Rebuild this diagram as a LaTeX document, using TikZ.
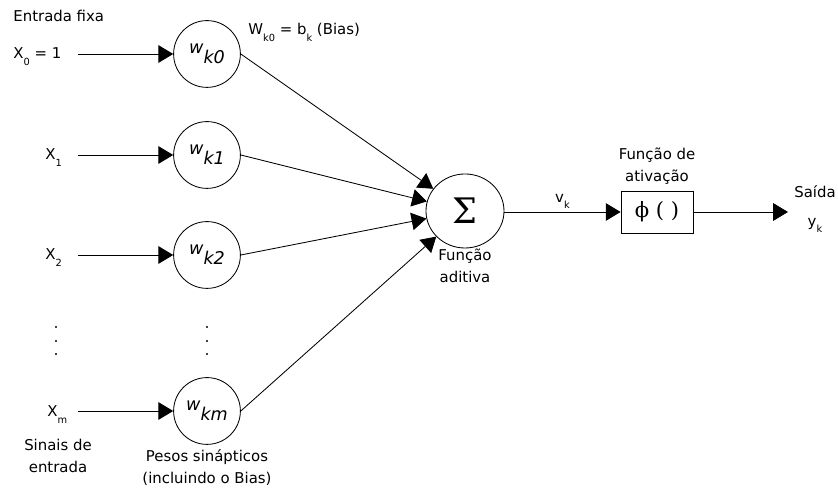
\documentclass[tikz,border=0pt]{standalone}
\usepackage{fontspec}
\setmainfont{DejaVu Sans}
\newfontfamily\serifsym{DejaVu Serif}
\usetikzlibrary{arrows.meta,positioning,shapes.geometric}
\newcommand{\idx}[1]{\raisebox{-4.5pt}{\fontsize{7}{7}\selectfont #1}}
\newcommand{\wlabel}[1]{w\raisebox{-7pt}{#1}}
\tikzset{>={Triangle[length=10.5pt,width=12.5pt]},x=0.025cm,y=0.025cm}
\tikzset{
    peso/.style={circle,draw,minimum size=47.5pt,inner sep=0pt,
        font=\fontsize{12.5}{14}\selectfont\itshape},
    txt/.style={inner sep=0pt,align=center,font=\fontsize{10.6}{15.6}\selectfont},
    every path/.style={line width=0.6pt}
}

\begin{document}
\begin{tikzpicture}
    \useasboundingbox (0,0) rectangle (838,491);
    % pesos
    \node[peso] (w0) at (207,437) {\wlabel{k0}};
    \node[peso] (w1) at (207,336) {\wlabel{k1}};
    \node[peso] (w2) at (207,236) {\wlabel{k2}};
    \node[peso] (wm) at (207,80)  {\wlabel{km}};
    \node[ellipse,draw,minimum width=1.95cm,minimum height=1.85cm,inner sep=0pt,
        font=\serifsym\fontsize{25}{25}\selectfont] (sum) at (465,280) {Σ};
    \node[rectangle,draw,minimum width=1.8cm,minimum height=1.05cm,inner sep=0pt,
        font=\serifsym\fontsize{15}{15}\selectfont] (act) at (657,279) {ϕ ( )};
    \coordinate (out) at (788,279);
    % entradas
    \node[txt,anchor=base west] (fixa) at (13,469) {Entrada fixa};
    \node[txt,anchor=base west] (x0) at (13,432) {X\idx{0} = 1};
    \node[txt,anchor=base west] (x1) at (45,331) {X\idx{1}};
    \node[txt,anchor=base west] (x2) at (45,231) {X\idx{2}};
    \node[txt,anchor=base west] (xm) at (47,74)  {X\idx{m}};
    \coordinate (in0) at (78,437);
    \coordinate (in1) at (78,336);
    \coordinate (in2) at (78,236);
    \coordinate (inm) at (78,80);
    \foreach \y in {137,150,164} {
        \fill (56,\y) circle (1.1);
        \fill (207,\y) circle (1.1);
    }
    % rotulos
    \node[txt,anchor=base west] (bias) at (248,456) {W\idx{k0} = b\idx{k} (Bias)};
    \node[txt] (sinais) at (58,35) {Sinais de\\entrada};
    \node[txt] (pesos) [below=3pt of wm] {Pesos sinápticos\\(incluindo o Bias)};
    \node[txt] (aditiva) [below=0pt of sum] {Função\\aditiva};
    \node[txt] (ativ) [above=4pt of act] {Função de\\ativação};
    \node[txt] (saida) at (815,282) {Saída\\[5pt]y\idx{k}};
    \path[->]
        (in0) edge (w0)
        (in1) edge (w1)
        (in2) edge (w2)
        (inm) edge (wm)
        (w0.east) edge (sum)
        (w1.east) edge (sum)
        (w2.east) edge (sum)
        (wm.east) edge (sum)
        (sum.east |- act) edge node[txt,above=2pt] {v\idx{k}} (act)
        (act) edge (out);
\end{tikzpicture}
\end{document}
